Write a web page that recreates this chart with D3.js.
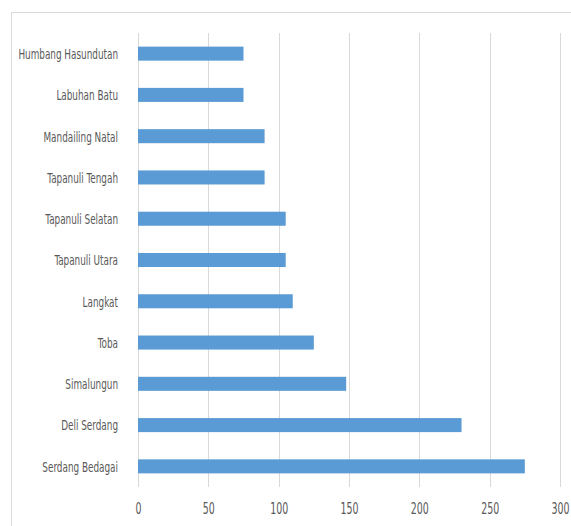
<!DOCTYPE html>
<html>
<head>
<meta charset="utf-8">
<script src="https://cdn.jsdelivr.net/npm/d3@7"></script>
<style>
  body { margin: 0; background: #fff; }
  text { font-family: "DejaVu Sans Condensed", sans-serif; fill: #595959; }
</style>
</head>
<body>
<div id="vis-container"></div>
<script>
//data
let regions = ["Humbang Hasundutan", "Labuhan Batu", "Mandailing Natal", "Tapanuli Tengah",
  "Tapanuli Selatan", "Tapanuli Utara", "Langkat", "Toba", "Simalungun", "Deli Serdang", "Serdang Bedagai"];
let values = [75, 75, 90, 90, 105, 105, 110, 125, 148, 230, 275];
let xTicks = [0, 50, 100, 150, 200, 250, 300];

let data = regions.map((r, i) => ({region: r, value: values[i]}));

//margins
let margin = {top: 33, right: 11, bottom: 39, left: 138};
let W = 571, H = 526;
let width = W - margin.left - margin.right;
let height = H - margin.top - margin.bottom;

//text in the picture is squeezed sideways
let sxCat = 0.73, sxTick = 0.7;

let svg = d3.select("#vis-container")
  .append("svg")
  .attr("width", W)
  .attr("height", H);

//chart frame (runs off the right and bottom edge)
svg.append("rect")
  .attr("x", 11.5).attr("y", 12.5)
  .attr("width", W).attr("height", H)
  .attr("fill", "none")
  .attr("stroke", "#d9d9d9");

let g = svg.append("g")
  .attr("transform", `translate(${margin.left}, ${margin.top})`);

//scales
let x = d3.scaleLinear().domain([0, 300]).range([0, 422]);
let y = d3.scaleBand().domain(regions).range([0, height])
  .paddingInner(0.66).paddingOuter(0.33);

//gridlines
g.selectAll(".grid")
  .data(xTicks)
  .enter().append("line")
  .attr("class", "grid")
  .attr("x1", d => Math.round(x(d)) + 0.5)
  .attr("x2", d => Math.round(x(d)) + 0.5)
  .attr("y1", 0)
  .attr("y2", height)
  .attr("stroke", "#d9d9d9");

//x axis labels
let xAxis = d3.axisBottom(x).tickValues(xTicks).tickSize(0).tickPadding(0);
let xAxisGroup = g.append("g")
  .attr("transform", `translate(0, ${height})`)
  .call(xAxis);
xAxisGroup.select(".domain").remove();
xAxisGroup.selectAll("text")
  .attr("y", 27)
  .attr("dy", 0)
  .attr("font-size", "15px")
  .attr("transform", `scale(${sxTick},1)`)
  .attr("fill", "#595959");

//category axis labels
let yAxis = d3.axisLeft(y).tickSize(0).tickPadding(20);
let yAxisGroup = g.append("g").call(yAxis);
yAxisGroup.select(".domain").remove();
yAxisGroup.selectAll("text")
  .attr("font-size", "13.5px")
  .attr("x", -20 / sxCat)
  .attr("dy", "0.4em")
  .attr("transform", `scale(${sxCat},1)`)
  .attr("fill", "#595959");

//bars
g.selectAll(".bar")
  .data(data)
  .enter().append("rect")
  .attr("class", "bar")
  .attr("x", x(0))
  .attr("y", d => y(d.region))
  .attr("width", d => x(d.value))
  .attr("height", y.bandwidth())
  .attr("fill", "#5b9bd5");
</script>
</body>
</html>
